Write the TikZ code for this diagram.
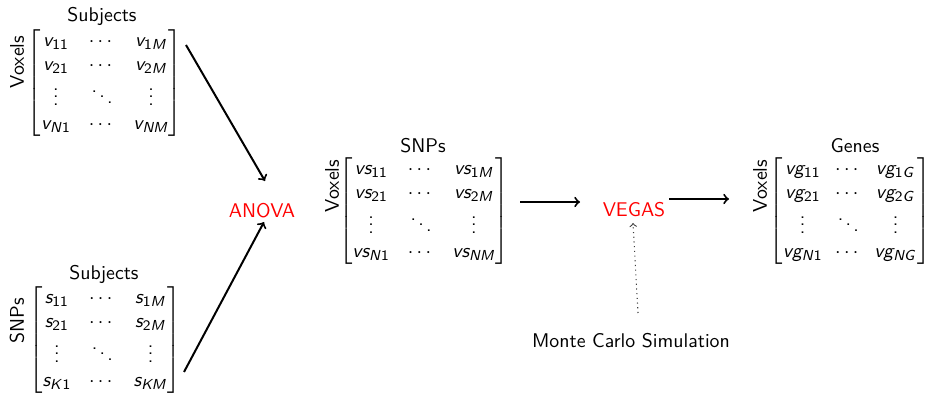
\documentclass[11pt,tikz,border=0pt]{standalone}
\usepackage{amsmath}
\usetikzlibrary{calc}
\renewcommand{\familydefault}{\sfdefault}
\DeclareSymbolFont{sfitfont}{OT1}{cmss}{m}{sl}
\DeclareMathSymbol{\Sv}{\mathalpha}{sfitfont}{`v}
\DeclareMathSymbol{\Sss}{\mathalpha}{sfitfont}{`s}
\DeclareMathSymbol{\Sg}{\mathalpha}{sfitfont}{`g}
\DeclareMathSymbol{\SM}{\mathalpha}{sfitfont}{`M}
\DeclareMathSymbol{\SN}{\mathalpha}{sfitfont}{`N}
\DeclareMathSymbol{\SK}{\mathalpha}{sfitfont}{`K}
\DeclareMathSymbol{\SG}{\mathalpha}{sfitfont}{`G}
\DeclareMathAlphabet{\mathsfup}{OT1}{cmss}{m}{n}
\definecolor{dotgray}{RGB}{60,60,60}
\begin{document}
\begin{tikzpicture}[x=0.5525pt,y=-0.5525pt,
  mat/.style={inner sep=0pt},
  lab/.style={inner sep=0pt},
  flow/.style={->,line width=1.1pt},
  proc/.style={text=red,inner sep=0pt}]
\useasboundingbox (0,0) rectangle (936,395);
% matrices
\node[mat] (m1) at (105,83) {$\begin{bmatrix}
\Sv_{\mathsfup{11}} & \cdots & \Sv_{\mathsfup{1}\SM}\\
\Sv_{\mathsfup{21}} & \cdots & \Sv_{\mathsfup{2}\SM}\\
\vdots & \ddots & \vdots\\
\Sv_{\SN\mathsfup{1}} & \cdots & \Sv_{\SN\SM}
\end{bmatrix}$};
\node[mat] (m2) at (105,340) {$\begin{bmatrix}
\Sss_{\mathsfup{11}} & \cdots & \Sss_{\mathsfup{1}\SM}\\
\Sss_{\mathsfup{21}} & \cdots & \Sss_{\mathsfup{2}\SM}\\
\vdots & \ddots & \vdots\\
\Sss_{\SK\mathsfup{1}} & \cdots & \Sss_{\SK\SM}
\end{bmatrix}$};
\node[mat] (m3) at (424,211) {$\begin{bmatrix}
\Sv\Sss_{\mathsfup{11}} & \cdots & \Sv\Sss_{\mathsfup{1}\SM}\\
\Sv\Sss_{\mathsfup{21}} & \cdots & \Sv\Sss_{\mathsfup{2}\SM}\\
\vdots & \ddots & \vdots\\
\Sv\Sss_{\SN\mathsfup{1}} & \cdots & \Sv\Sss_{\SN\SM}
\end{bmatrix}$};
\node[mat] (m4) at (850,211) {\setlength{\arraycolsep}{3.5pt}$\begin{bmatrix}
\Sv\Sg_{\mathsfup{11}} & \cdots & \Sv\Sg_{\mathsfup{1}\SG}\\
\Sv\Sg_{\mathsfup{21}} & \cdots & \Sv\Sg_{\mathsfup{2}\SG}\\
\vdots & \ddots & \vdots\\
\Sv\Sg_{\SN\mathsfup{1}} & \cdots & \Sv\Sg_{\SN\SG}
\end{bmatrix}$};
% labels
\node[lab] (t1) at (102,16) {Subjects};
\node[lab,rotate=90] (s1) at (17,62) {Voxels};
\node[lab] (t2) at (104,274) {Subjects};
\node[lab,rotate=90] (s2) at (17,321) {SNPs};
\node[lab] (t3) at (423,146) {SNPs};
\node[lab,rotate=90] (s3) at (332,186) {Voxels};
\node[lab] (t4) at (855,146) {Genes};
\node[lab,rotate=90] (s4) at (760,186) {Voxels};
% process nodes
\node[proc] (anova) at (262,211) {ANOVA};
\node[proc] (vegas) at (634,210) {VEGAS};
\node[lab] (mc) at (631,341) {Monte Carlo Simulation};
% connectors
\coordinate (a1s) at ($(anova.center)+(-76,-166)$);
\coordinate (a1e) at ($(anova.center)+(3,-30)$);
\coordinate (a2s) at ($(anova.center)+(-78,161)$);
\coordinate (a2e) at ($(anova.center)+(2,11)$);
\draw[flow] (a1s) -- (a1e);
\draw[flow] (a2s) -- (a2e);
\coordinate (b1s) at ($(vegas.center)+(-114,-8)$);
\coordinate (b1e) at ($(vegas.center)+(-54,-8)$);
\draw[flow] (b1s) -- (b1e);
\coordinate (b2s) at ($(vegas.center)+(35,-11)$);
\coordinate (b2e) at ($(vegas.center)+(95,-11)$);
\draw[flow] (b2s) -- (b2e);
\coordinate (c1s) at ($(mc.center)+(7,-28)$);
\coordinate (c1e) at ($(vegas.center)+(-1,13)$);
\draw[->,dotted,dotgray,line width=0.6pt] (c1s) -- (c1e);
\end{tikzpicture}
\end{document}
